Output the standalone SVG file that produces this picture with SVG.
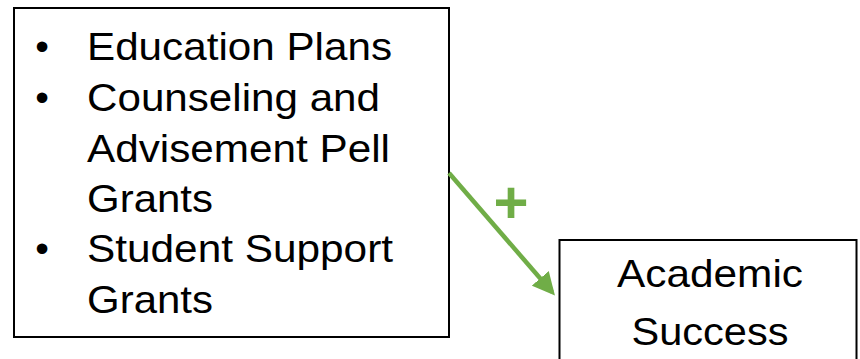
<svg xmlns="http://www.w3.org/2000/svg" width="860" height="359" viewBox="0 0 860 359">
<style>
.box{fill:#fff;stroke:#000;stroke-width:2}
.t{font-family:"Liberation Sans",Arial,sans-serif;font-size:39px;fill:#000}
.c{text-anchor:middle}
.plus{font-family:"Liberation Sans",Arial,sans-serif;font-size:60px;font-weight:bold;fill:#70AD47;text-anchor:middle}
</style>
<defs>
<marker id="ah" markerWidth="5" markerHeight="5" refX="4" refY="2.5" orient="auto" markerUnits="strokeWidth">
<path d="M0,0 L5,2.5 L0,5 Z" fill="#70AD47"/>
</marker>
</defs>
<rect width="860" height="359" fill="#fff"/>
<g id="node-supports">
<rect class="box" x="14" y="8" width="435" height="329"/>
<text class="t" x="42" y="60" text-anchor="middle">•</text>
<text class="t" x="87" y="60" textLength="305" lengthAdjust="spacingAndGlyphs">Education Plans</text>
<text class="t" x="42" y="111" text-anchor="middle">•</text>
<text class="t" x="87" y="111" textLength="293" lengthAdjust="spacingAndGlyphs">Counseling and</text>
<text class="t" x="87" y="162" textLength="303" lengthAdjust="spacingAndGlyphs">Advisement Pell</text>
<text class="t" x="87" y="212" textLength="126" lengthAdjust="spacingAndGlyphs">Grants</text>
<text class="t" x="42" y="262" text-anchor="middle">•</text>
<text class="t" x="87" y="262" textLength="306" lengthAdjust="spacingAndGlyphs">Student Support</text>
<text class="t" x="87" y="313" textLength="126" lengthAdjust="spacingAndGlyphs">Grants</text>
</g>
<g id="node-success">
<rect class="box" x="559.5" y="240" width="297" height="140"/>
<text class="t c" x="710" y="287" textLength="186" lengthAdjust="spacingAndGlyphs">Academic</text>
<text class="t c" x="710" y="345" textLength="157" lengthAdjust="spacingAndGlyphs">Success</text>
</g>
<g id="connectors">
<line x1="449" y1="173" x2="552" y2="292" stroke="#70AD47" stroke-width="4.5" marker-end="url(#ah)"/>
<text class="plus" x="511" y="223">+</text>
</g>
</svg>
